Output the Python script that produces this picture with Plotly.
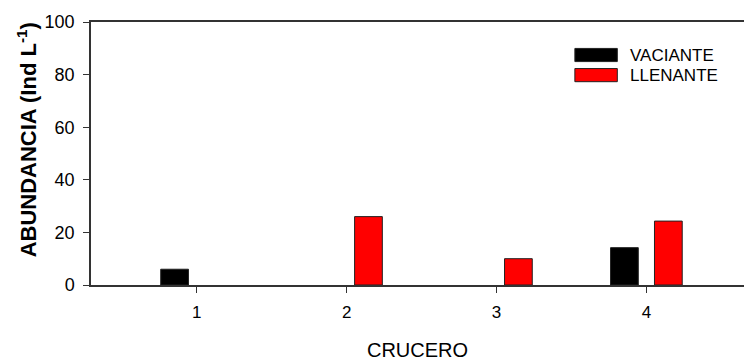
import plotly.graph_objects as go

cruceros = [1, 2, 3, 4]
vaciante = [6.0, None, None, 14.2]
llenante = [None, 26.0, 10.0, 24.3]
x_ticks = [1, 2, 3, 4]
y_ticks = [0, 20, 40, 60, 80, 100]

FONT = "Arial, Liberation Sans, sans-serif"
LINE = "#333333"

fig = go.Figure()
fig.add_trace(go.Bar(x=cruceros, y=vaciante, name="VACIANTE", width=0.185, offset=-0.24,
                     marker=dict(color="black", line=dict(color="#222222", width=1)),
                     showlegend=False))
fig.add_trace(go.Bar(x=cruceros, y=llenante, name="LLENANTE", width=0.185, offset=0.053,
                     marker=dict(color="#ff0000", line=dict(color="#222222", width=1)),
                     showlegend=False))

# manual legend
legend_items = [("VACIANTE", "black", 0.8745), ("LLENANTE", "#ff0000", 0.798)]
for label, color, yc in legend_items:
    fig.add_shape(type="rect", xref="paper", yref="paper",
                  x0=0.741, x1=0.806, y0=yc - 0.025, y1=yc + 0.025,
                  fillcolor=color, line=dict(color="#222222", width=1))
    fig.add_annotation(text=label, xref="paper", yref="paper", x=0.823, y=yc,
                       xanchor="left", yanchor="middle", showarrow=False,
                       font=dict(family=FONT, size=17, color="black"))

# y-axis title
fig.add_annotation(text="<b>ABUNDANCIA (Ind L<sup>-1</sup>)</b>", xref="paper", yref="paper",
                   x=-0.098, y=0.55, xanchor="center", yanchor="middle", textangle=-90,
                   showarrow=False, font=dict(family=FONT, size=22, color="black"))

fig.update_layout(
    width=744, height=361,
    margin=dict(l=91, r=0, t=22, b=76),
    paper_bgcolor="white", plot_bgcolor="white",
    barmode="overlay",
    font=dict(family=FONT, size=17, color="black"),
    xaxis=dict(range=[0.295, 4.65], tickvals=x_ticks, ticktext=[str(v) for v in x_ticks],
               showline=True, linecolor=LINE, linewidth=1.5, mirror=True,
               ticks="outside", ticklen=6, tickcolor=LINE, showgrid=False, zeroline=False,
               tickfont=dict(family=FONT, size=17), ticklabelstandoff=5,
               title=dict(text="CRUCERO", font=dict(family=FONT, size=20), standoff=24)),
    yaxis=dict(range=[0, 100], tickvals=y_ticks,
               showline=True, linecolor=LINE, linewidth=1.5,
               ticks="outside", ticklen=6, tickcolor=LINE, showgrid=False, zeroline=False,
               tickfont=dict(family=FONT, size=18), ticklabelstandoff=5),
)

fig.write_html("out.html")
